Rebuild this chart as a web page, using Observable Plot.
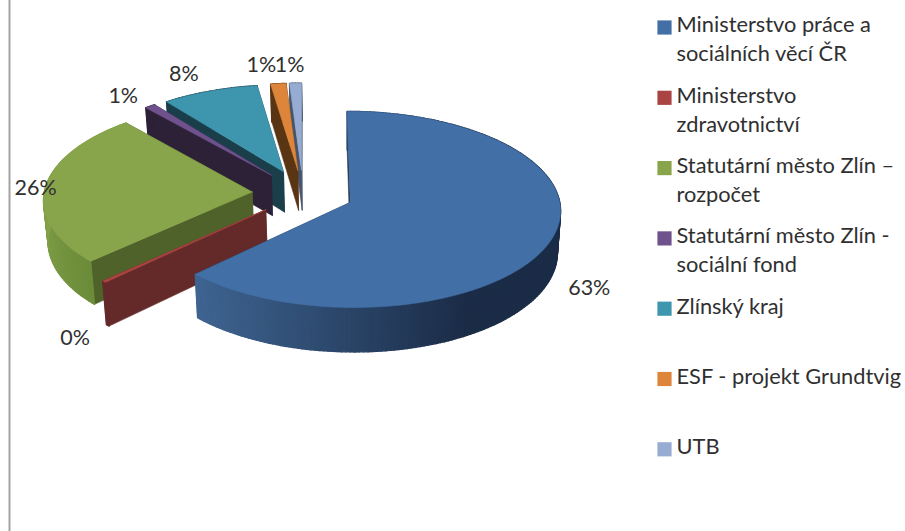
<!DOCTYPE html>
<html><head><meta charset="utf-8">
<script src="https://cdn.jsdelivr.net/npm/d3@7"></script>
<script src="https://cdn.jsdelivr.net/npm/@observablehq/plot@0.6"></script>
<style>html,body{margin:0;padding:0;background:#fff}svg{display:block}</style>
</head><body><div id="chart"></div>
<script>
const names = ["Ministerstvo práce a\nsociálních věcí ČR","Ministerstvo\nzdravotnictví","Statutární město Zlín –\nrozpočet","Statutární město Zlín -\nsociální fond","Zlínský kraj","ESF - projekt Grundtvig","UTB"];
const values = [62.6, 0.3, 25.7, 0.9, 8.1, 1.3, 1];
const topColors = ["#426fa6","#a94442","#88a54c","#6f528d","#3e95ae","#dc853b","#96acd3"];
const cutColors = ["#1f3550","#632a29","#4f6229","#2c2137","#1a3e4a","#593514","#46556d"];
const labelDx = [39,-29,-10,-27,-26,-17,-6];
const labelDy = [47,56,1,-10,-17,-19,-18];

const cx=302.5, cy=192.7, R=208, Ry=96.2, k=0.0714, depth=41, explode=0.245, vpX=350, shrink=0.985;
const proj=(gx,gy,low)=>{
  const s=1/(1-k*gy); let X=cx+R*gx*s, Y=cy+Ry*gy*s;
  if(low){Y+=depth*s; X=vpX+(X-vpX)*shrink;}
  return [X,Y];
};
const total=d3.sum(values), cum=d3.cumsum(values);
const slices=values.map((v,i)=>{
  const a1=cum[i]/total*2*Math.PI, a0=a1-v/total*2*Math.PI, m=(a0+a1)/2;
  return {i,a0,a1,m,ox:explode*Math.sin(m),oy:-explode*Math.cos(m)};
});
const polys=[]; let id=0;
const addPoly=(pts,color,w)=>{id++;[...pts,pts[0]].forEach(p=>polys.push({x:p[0],y:p[1],z:id,c:color,w}));};
const lerp=d3.interpolateRgb;
const rimColor=(i,X,a)=>{
  if(i===0) return lerp("#3e6491","#1b2c47")(Math.min(1,Math.max(0,(X-196)/270)));
  if(i===2) return lerp("#6a8a39","#85a44a")(Math.min(1,Math.max(0,(a-3.9)/0.9)));
  return cutColors[i];
};
// back slices first, the largest slice in front
[6,5,4,3,2,1,0].forEach(i=>{
  const s=slices[i], pt=(a,low)=>proj(s.ox+Math.sin(a),s.oy-Math.cos(a),low), ap=low=>proj(s.ox,s.oy,low);
  addPoly([ap(0),pt(s.a1,0),pt(s.a1,1),ap(1)],cutColors[i],0.6);
  addPoly([ap(0),pt(s.a0,0),pt(s.a0,1),ap(1)],cutColors[i],0.6);
  const n=Math.max(2,Math.ceil((s.a1-s.a0)/0.02));
  const as=d3.range(n+1).map(j=>s.a0+(s.a1-s.a0)*j/n);
  d3.pairs(as).forEach(([u,w])=>{
    const mid=(u+w)/2;
    addPoly([pt(u,0),pt(w,0),pt(w,1),pt(u,1)],rimColor(i,pt(mid,0)[0],mid),1.4);
  });
  addPoly([ap(0),...as.map(a=>pt(a,0))],topColors[i],0.6);
});

const pctLabels=slices.map(s=>{
  const [x,y]=proj(s.ox+Math.sin(s.m),s.oy-Math.cos(s.m),0);
  return {x:x+labelDx[s.i],y:y+labelDy[s.i],t:Math.round(values[s.i])+"%"};
});
const legendTop=27, legendStep=70.3, lineStep=29;
const swatches=names.map((n,i)=>({y:legendTop+i*legendStep,c:topColors[i]}));
const legendRows=names.flatMap((n,i)=>n.split("\n").map((t,j)=>({y:legendTop-2+i*legendStep+j*lineStep,t})));

const font="Lato, 'Open Sans', sans-serif";
document.getElementById("chart").append(Plot.plot({
  width:905,height:531,margin:0,
  x:{domain:[0,905],range:[0,905],axis:null},
  y:{domain:[0,531],range:[0,531],axis:null},
  color:{type:"identity"},
  style:{background:"#fff",fontFamily:font},
  marks:[
    Plot.ruleX([9],{stroke:"#a3a3a3",strokeWidth:2}),
    Plot.line(polys,{x:"x",y:"y",z:"z",fill:"c",stroke:"c",strokeWidth:"w"}),
    Plot.text(pctLabels,{x:"x",y:"y",text:"t",fontSize:21.5,fill:"#303030",fontFamily:font}),
    Plot.dot(swatches,{x:()=>664,y:"y",symbol:"square",r:8,fill:"c"}),
    Plot.text(legendRows,{x:()=>676,y:"y",text:"t",textAnchor:"start",fontSize:21.8,fill:"#303030",fontFamily:font})
  ]
}));
</script></body></html>
